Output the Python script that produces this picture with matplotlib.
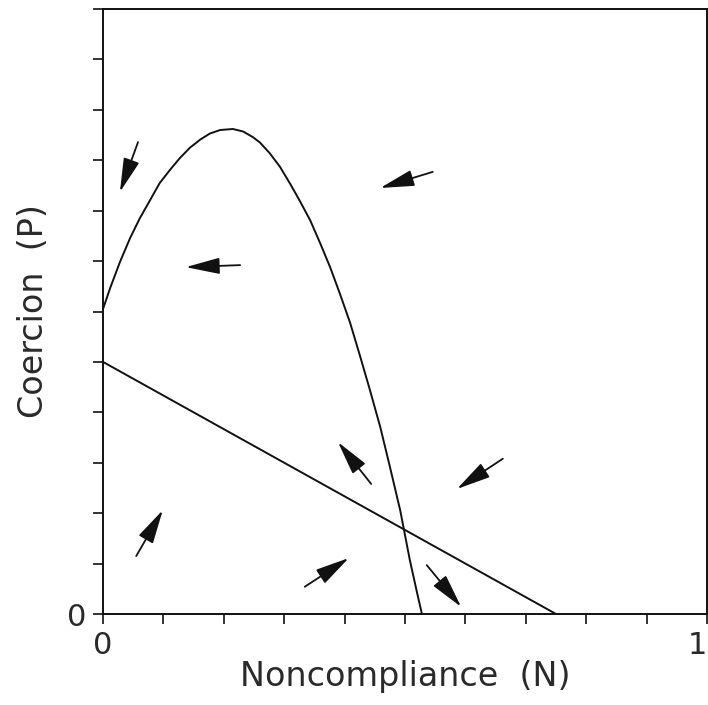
import matplotlib
matplotlib.use("Agg")
import matplotlib.pyplot as plt
import numpy as np

# curve (noncompliance N, coercion P)
curve_n = [0.0, 0.012, 0.028, 0.045, 0.061, 0.078, 0.094, 0.111, 0.127, 0.144,
           0.161, 0.177, 0.194, 0.215, 0.232, 0.248, 0.260, 0.276, 0.293, 0.310,
           0.326, 0.343, 0.359, 0.376, 0.392, 0.409, 0.425, 0.442, 0.459, 0.475,
           0.492, 0.508, 0.520, 0.528]
curve_p = [0.605, 0.647, 0.698, 0.746, 0.785, 0.821, 0.855, 0.881, 0.904, 0.925,
           0.941, 0.953, 0.960, 0.962, 0.957, 0.946, 0.935, 0.914, 0.887, 0.853,
           0.819, 0.781, 0.737, 0.688, 0.636, 0.578, 0.514, 0.444, 0.371, 0.292,
           0.206, 0.107, 0.042, 0.0]

# straight line
line_n = [0.0, 0.75]
line_p = [0.5, 0.0]

# arrows: tail -> head
arrow_tail = [(0.058, 0.936), (0.227, 0.692), (0.546, 0.877), (0.444, 0.258),
              (0.662, 0.308), (0.055, 0.115), (0.334, 0.054), (0.536, 0.097)]
arrow_head = [(0.028, 0.837), (0.137, 0.688), (0.459, 0.845), (0.389, 0.341),
              (0.586, 0.248), (0.099, 0.206), (0.407, 0.111), (0.593, 0.014)]

xticks = np.arange(0, 11) / 10
yticks = np.arange(0, 13) / 10

ink = "#111111"
txt = "#2a2a2a"

fig = plt.figure(figsize=(7.08, 7.05), dpi=100)
ax = fig.add_axes([103 / 708, 91 / 705, 604 / 708, 605 / 705])

ax.plot(curve_n, curve_p, color=ink, lw=1.4, solid_joinstyle="round")
ax.plot(line_n, line_p, color=ink, lw=1.4)

for t, h in zip(arrow_tail, arrow_head):
    ax.annotate("", xy=h, xytext=t,
                arrowprops=dict(arrowstyle="-|>,head_length=1.5,head_width=0.36",
                                mutation_scale=14, color=ink, lw=1.3,
                                shrinkA=0, shrinkB=0))

ax.set_xlim(0, 1)
ax.set_ylim(0, 1.2)
ax.set_xticks(xticks)
ax.set_xticklabels(["0"] + [""] * 9 + ["1"])
ax.get_xticklabels()[-1].set_horizontalalignment("right")
ax.set_yticks(yticks)
ax.set_yticklabels(["0"] + [""] * 12)
ax.tick_params(direction="out", length=7, width=1.2, labelsize=22,
               colors=ink, labelcolor=txt, pad=5)
for s in ax.spines.values():
    s.set_linewidth(1.4)
    s.set_color(ink)

ax.set_xlabel("Noncompliance  (N)", fontsize=24, color=txt, labelpad=0)
ax.set_ylabel("Coercion  (P)", fontsize=24, color=txt, labelpad=12)

fig.savefig("out.png", dpi=100)
